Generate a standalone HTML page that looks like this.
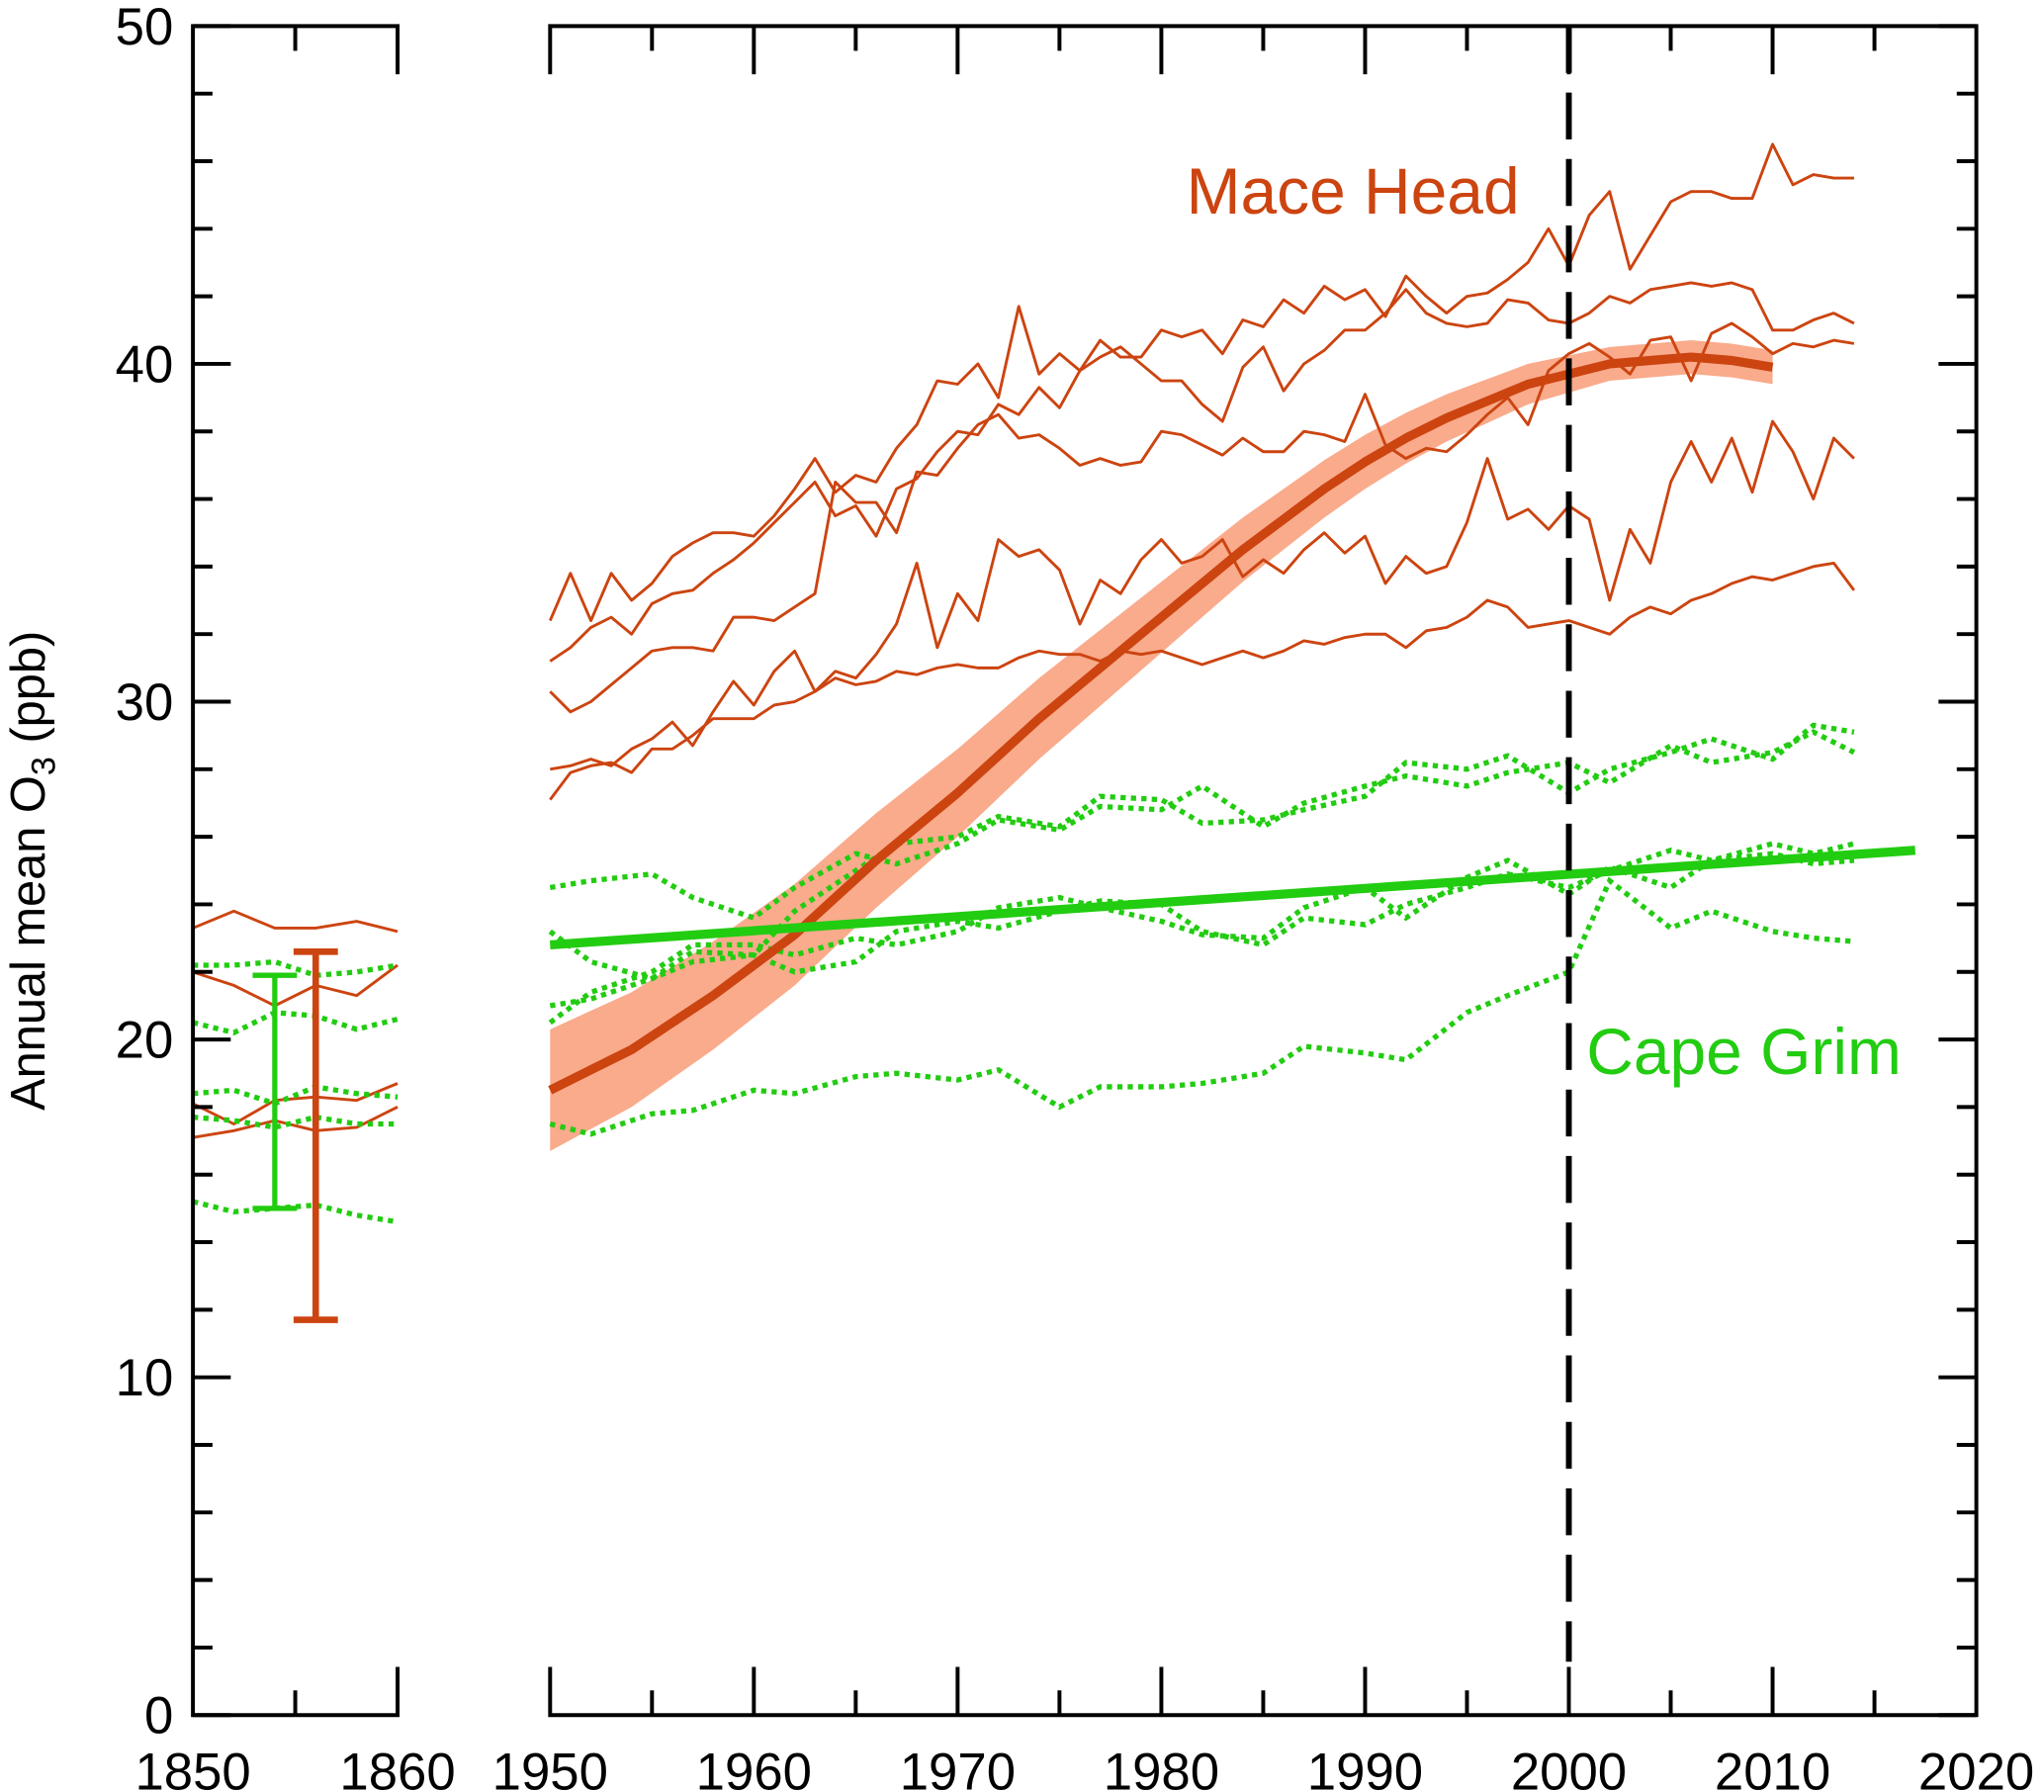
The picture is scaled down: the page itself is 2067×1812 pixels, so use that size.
<!DOCTYPE html>
<html><head><meta charset="utf-8"><style>
html,body{margin:0;padding:0;background:#fff;}
svg{display:block;font-family:"Liberation Sans","DejaVu Sans",sans-serif;}
</style></head><body>
<svg id="chart" width="2067" height="1812" viewBox="0 0 1568 1375" preserveAspectRatio="none" xmlns="http://www.w3.org/2000/svg">
<text transform="translate(34,668) rotate(-90)" text-anchor="middle" font-size="37" fill="#000">Annual mean O<tspan font-size="26" dy="8">3</tspan><tspan dy="-8"> (ppb)</tspan></text>
<text x="910" y="164" font-size="50" fill="#cc4410">Mace Head</text>
<text x="1217" y="824" font-size="50" fill="#22cc11">Cape Grim</text>
<g id="g"></g>
</svg>
<script>
// ---- data ----
const years = Array.from({length:65},(_,i)=>1950+i);
const maceA=[32.4,33.8,32.4,33.8,33,33.5,34.3,34.7,35,35,34.9,35.5,36.3,37.2,36.2,36.7,36.5,37.5,38.2,39.5,39.4,40,39,41.7,39.7,40.3,39.8,40.7,40.2,40.2,41,40.8,41,40.3,41.3,41.1,41.9,41.5,42.3,41.9,42.2,41.4,42.6,42,41.5,42,42.1,42.5,43,44,42.9,44.4,45.1,42.8,43.8,44.8,45.1,45.1,44.9,44.9,46.5,45.3,45.6,45.5,45.5];
const maceB=[31.2,31.6,32.2,32.5,32,32.9,33.2,33.3,33.8,34.2,34.7,35.3,35.9,36.5,35.5,35.8,34.9,36.3,36.6,37.4,38,37.9,38.8,38.5,39.3,38.7,39.8,40.2,40.5,40,39.5,39.5,38.8,38.3,39.9,40.5,39.2,40,40.4,41,41,41.5,42.2,41.5,41.2,41.1,41.2,41.9,41.8,41.3,41.2,41.5,42,41.8,42.2,42.3,42.4,42.3,42.4,42.2,41,41,41.3,41.5,41.2];
const maceC=[30.3,29.7,30,30.5,31,31.5,31.6,31.6,31.5,32.5,32.5,32.4,32.8,33.2,36.5,35.9,35.9,35,36.8,36.7,37.5,38.2,38.5,37.8,37.9,37.5,37,37.2,37,37.1,38,37.9,37.6,37.3,37.8,37.4,37.4,38,37.9,37.7,39.1,37.6,37.2,37.5,37.4,37.9,38.5,39,38.2,39.8,40.3,40.6,40.2,39.7,40.7,40.8,39.5,40.9,41.2,40.8,40.3,40.6,40.5,40.7,40.6];
const maceD=[28,28.1,28.3,28.1,28.6,28.9,29.4,28.7,29.7,30.6,29.9,30.9,31.5,30.3,30.9,30.7,31.4,32.3,34.1,31.6,33.2,32.4,34.8,34.3,34.5,33.9,32.3,33.6,33.2,34.2,34.8,34.1,34.3,34.8,33.7,34.2,33.8,34.5,35,34.4,34.9,33.5,34.3,33.8,34,35.3,37.2,35.4,35.7,35.1,35.8,35.4,33,35.1,34.1,36.5,37.7,36.5,37.8,36.2,38.3,37.4,36,37.8,37.2];
const maceE=[27.1,27.9,28.1,28.2,27.9,28.6,28.6,29,29.5,29.5,29.5,29.9,30,30.3,30.7,30.5,30.6,30.9,30.8,31,31.1,31,31,31.3,31.5,31.4,31.4,31.2,31.5,31.4,31.5,31.3,31.1,31.3,31.5,31.3,31.5,31.8,31.7,31.9,32,32,31.6,32.1,32.2,32.5,33,32.8,32.2,32.3,32.4,32.2,32,32.5,32.8,32.6,33,33.2,33.5,33.7,33.6,33.8,34,34.1,33.3];
const fitYears=[1950,1952,1954,1956,1958,1960,1962,1964,1966,1968,1970,1972,1974,1976,1978,1980,1982,1984,1986,1988,1990,1992,1994,1996,1998,2000,2002,2004,2006,2008,2010];
const fitVals=[18.5,19.1,19.7,20.5,21.3,22.2,23.1,24.2,25.3,26.3,27.3,28.4,29.5,30.5,31.5,32.5,33.5,34.5,35.4,36.3,37.1,37.8,38.4,38.9,39.4,39.7,40,40.1,40.2,40.1,39.9];
const fitErr=[1.8,1.75,1.7,1.65,1.6,1.55,1.5,1.45,1.4,1.35,1.3,1.25,1.2,1.15,1.1,1.05,1.0,0.95,0.9,0.85,0.8,0.75,0.7,0.65,0.6,0.55,0.5,0.5,0.5,0.5,0.5];
const gYears=[1950,1952,1955,1957,1960,1962,1965,1967,1970,1972,1975,1977,1980,1982,1985,1987,1990,1992,1995,1997,2000,2002,2005,2007,2010,2012,2014];
const grimA=[24.5,24.7,24.9,24.2,23.6,24.5,25.5,25.2,25.8,26.5,26.2,26.9,26.8,27.5,26.3,27,27.5,27.8,27.5,27.9,28.2,27.6,28.7,28.2,28.5,29.1,28.5];
const grimB=[23.2,22.3,21.8,22.6,22.5,23.8,25,25.8,26,26.6,26.3,27.2,27.1,26.4,26.5,26.8,27.2,28.2,28,28.4,27.3,28,28.5,28.9,28.3,29.3,29.1];
const grimC=[21,21.2,21.8,22.3,22.5,22,22.3,23.2,23.5,23.3,23.8,24.1,24,23.2,22.8,23.6,23.4,24,24.5,24.9,24.5,25,25.6,25.3,25.8,25.5,25.8];
const grimD=[20.5,21.4,22,22.8,22.8,22.5,23,22.8,23.2,23.9,24.2,23.9,23.5,23.1,23,23.9,24.5,23.6,24.8,25.3,24.3,25.1,24.5,25.3,25.5,25.2,25.3];
const grimE=[17.5,17.2,17.8,17.9,18.5,18.4,18.9,19,18.8,19.1,18,18.6,18.6,18.7,19,19.8,19.6,19.4,20.8,21.3,22,24.7,23.3,23.8,23.2,23,22.9];
const trendYears=[1950,2017];
const trendVals=[22.8,25.6];
const histX=[1850,1852,1854,1856,1858,1860];
const histRed=[[23.3,23.8,23.3,23.3,23.5,23.2],[22,21.6,21,21.6,21.3,22.2],[18.1,17.5,18.2,18.3,18.2,18.7],[17.1,17.3,17.6,17.3,17.4,18]];
const histGreen=[[22.2,22.2,22.3,21.9,22,22.2],[20.5,20.2,20.8,20.7,20.3,20.6],[18.4,18.5,18.1,18.6,18.4,18.3],[17.7,17.6,17.4,17.7,17.5,17.5],[15.2,14.9,15,15.1,14.8,14.6]];
const errGreen=[1854,15,21.9];
const errRed=[1856,11.7,22.6];
const yTicks=[0,10,20,30,40,50];
const xTicksL=[1850,1860];
const xTicksR=[1950,1960,1970,1980,1990,2000,2010,2020];
// ---- scales ----
const RED="#cc4410",GRN="#22cc11";
const Y=v=>1316-v*25.92;
const XL=t=>148+(t-1850)*15.7;
const XR=t=>422+(t-1950)*15.63;
const g=document.getElementById('g');
const NS="http://www.w3.org/2000/svg";
function mk(tag,at){const e=document.createElementNS(NS,tag);for(const k in at)e.setAttribute(k,at[k]);g.appendChild(e);return e;}
function pts(xs,ys,fx){return xs.map((x,i)=>fx(x).toFixed(1)+","+Y(ys[i]).toFixed(1)).join(" ");}
// band
let up=fitYears.map((x,i)=>XR(x)+","+Y(fitVals[i]+fitErr[i]));
let dn=fitYears.map((x,i)=>XR(x)+","+Y(fitVals[i]-fitErr[i])).reverse();
let band=mk('polygon',{points:up.concat(dn).join(" "),fill:"#f9ab8c",stroke:"none"});


// mace lines
[maceA,maceB,maceC,maceD,maceE].forEach((s,i)=>{
 const e=mk('polyline',{points:pts(years.slice(0,s.length),s,XR),fill:"none",stroke:RED,"stroke-width":2.2,"stroke-linejoin":"round"});
 
 
});
// grim dotted
[grimA,grimB,grimC,grimD,grimE].forEach((s,i)=>{
 const e=mk('polyline',{points:pts(gYears,s,XR),fill:"none",stroke:GRN,"stroke-width":4,"stroke-dasharray":"4 4"});
 
 
});
// fit curve
let fit=mk('polyline',{points:pts(fitYears,fitVals,XR),fill:"none",stroke:RED,"stroke-width":7,"stroke-linejoin":"round"});


let tr=mk('polyline',{points:pts(trendYears,trendVals,XR),fill:"none",stroke:GRN,"stroke-width":7});


// historical
histRed.forEach((s,i)=>{const e=mk('polyline',{points:pts(histX,s,XL),fill:"none",stroke:RED,"stroke-width":2.2});
 
 });
histGreen.forEach((s,i)=>{const e=mk('polyline',{points:pts(histX,s,XL),fill:"none",stroke:GRN,"stroke-width":4,"stroke-dasharray":"4 4"});
 
 });
function err(d,c,w,cap,name){const x=XL(d[0]);
 const e=mk('path',{d:`M${x},${Y(d[1])}V${Y(d[2])}M${x-cap},${Y(d[1])}h${2*cap}M${x-cap},${Y(d[2])}h${2*cap}`,stroke:c,"stroke-width":w,fill:"none"});
 
 }
err(errGreen,GRN,4,17,'green-error-bar');
err(errRed,RED,5,17,'red-error-bar');
// dashed 2000
let dl=mk('line',{x1:XR(2000),x2:XR(2000),y1:20,y2:1275,stroke:"#000","stroke-width":4.5,"stroke-dasharray":"36 15"});


// axes
const A={stroke:"#000","stroke-width":3,fill:"none"};
let ax=mk('path',Object.assign({d:`M${XL(1860)},${Y(50)+37}V${Y(50)}H${XL(1850)}V${Y(0)}H${XL(1860)}V${Y(0)-37}`},A));


let ax2=mk('path',Object.assign({d:`M${XR(1950)},${Y(50)+37}V${Y(50)}H${XR(2020)}V${Y(0)}H${XR(1950)}V${Y(0)-37}`},A));


let d="";
for(let v=0;v<=50;v+=2){const L=v%10===0?29:15;d+=`M${XL(1850)},${Y(v)}h${L}M${XR(2020)},${Y(v)}h${-L}`;}
d+=`M${XL(1855)},${Y(50)}v19M${XL(1855)},${Y(0)}v-19`;
for(let t=1955;t<2020;t+=5){const L=t%10===0?37:19;d+=`M${XR(t)},${Y(50)}v${L}M${XR(t)},${Y(0)}v${-L}`;}
let tk=mk('path',Object.assign({d:d},A));


yTicks.forEach(v=>{const e=mk('text',{x:133,y:Y(v)+14,"text-anchor":"end","font-size":40});e.textContent=v;
 
 });
xTicksL.concat(xTicksR).forEach(t=>{const x=t<1900?XL(t):XR(t);const e=mk('text',{x:x,y:1373,"text-anchor":"middle","font-size":40});e.textContent=t;
 
 });
</script>
</body></html>
